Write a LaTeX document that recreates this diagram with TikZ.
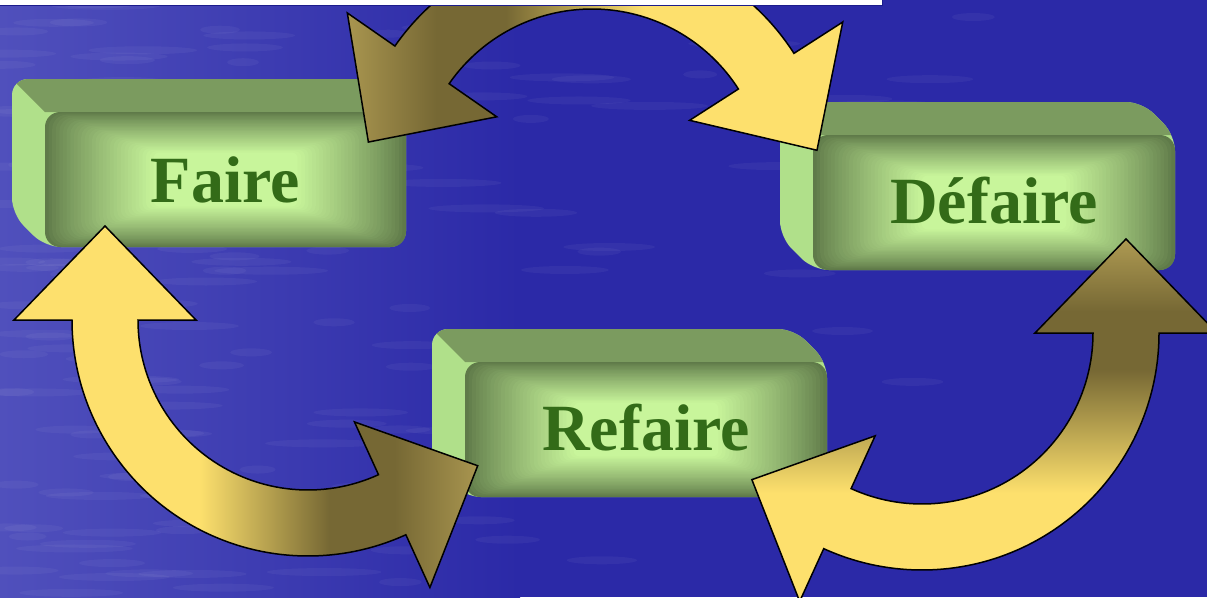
\documentclass[tikz,border=0pt]{standalone}
\usepackage{fontspec}
\setmainfont{Liberation Serif}
\definecolor{bgblue}{HTML}{2B29A7}
\definecolor{bgleft}{HTML}{5050BC}
\definecolor{topface}{HTML}{7B9B5F}
\definecolor{sideface}{HTML}{B0E08A}
\definecolor{frontdark}{HTML}{5F7A49}
\definecolor{frontlight}{HTML}{C8F59B}
\definecolor{textgreen}{HTML}{336B18}
\definecolor{gLight}{HTML}{FDE06D}
\definecolor{gDark}{HTML}{766834}
\definecolor{gMid}{HTML}{AE9A52}
\definecolor{stripnavy}{HTML}{1C1C8C}
\pgfdeclarehorizontalshading{goldgrad}{100bp}{color(0bp)=(gLight); color(45bp)=(gLight); color(59bp)=(gDark); color(66bp)=(gDark); color(76bp)=(gMid); color(100bp)=(gMid)}
\pgfdeclareverticalshading{goldgradv}{100bp}{color(0bp)=(gLight); color(40bp)=(gLight); color(57bp)=(gDark); color(65bp)=(gDark); color(75bp)=(gMid); color(100bp)=(gMid)}
\tikzset{
  goldstyle/.style={draw=black, line width=1.5pt, line join=miter, shade},
  boxtext/.style={font=\fontsize{66}{66}\selectfont\bfseries, text=textgreen, inner sep=0pt, anchor=base},
}
% green bevelled box: x0 y0 x1 y1 of the front face
\newcommand{\greenbox}[4]{%
  \begin{scope}
    \path[clip, rounded corners=16pt] (#1-33,#2-33) -- (#3-33,#2-33) -- (#3,#2) -- (#3,#4) -- (#1,#4) -- (#1-33,#4-33) -- cycle;
    \fill[sideface] (#1-60,#2-60) rectangle (#3+10,#4+10);
    \fill[topface] (#1-83,#2-83) -- (#3+50,#2-83) -- (#3+50,#2) -- (#1,#2) -- cycle;
  \end{scope}
  \pgfmathsetmacro{\bxc}{(#1+#3)/2}
  \pgfmathsetmacro{\byc}{(#2+#4)/2}
  \pgfmathsetmacro{\bhw}{(#3-#1)/2}
  \pgfmathsetmacro{\bhh}{(#4-#2)/2}
  \foreach \i in {0,...,30}{
    \pgfmathsetmacro{\s}{1-0.6*\i/30}
    \pgfmathtruncatemacro{\c}{100*(\i/30)^0.85}
    \pgfmathsetmacro{\rr}{max(2,15*\s)}
    \fill[frontlight!\c!frontdark, rounded corners=\rr pt]
      (\bxc-\bhw*\s,\byc-\bhh*\s) rectangle (\bxc+\bhw*\s,\byc+\bhh*\s);
  }
}
% double-headed curved arrow: cx cy a1 a2 midradius shading-options
\newcommand{\goldarrow}[6]{%
  \begin{scope}[shift={(#1,#2)}]
    \pgfmathsetmacro{\mo}{#5+33}
    \pgfmathsetmacro{\mi}{#5-33}
    \pgfmathsetmacro{\ho}{#5+91}
    \pgfmathsetmacro{\hi}{#5-91}
    \pgfmathsetmacro{\ax}{#5*cos(#3)+94*cos(#3-90)}
    \pgfmathsetmacro{\ay}{#5*sin(#3)+94*sin(#3-90)}
    \pgfmathsetmacro{\bx}{#5*cos(#4)+94*cos(#4+90)}
    \pgfmathsetmacro{\by}{#5*sin(#4)+94*sin(#4+90)}
    \path[goldstyle, #6] (#3:\mo) -- (#3:\ho) -- (\ax,\ay) -- (#3:\hi) -- (#3:\mi)
      arc[start angle=#3, end angle=#4, radius=\mi] -- (#4:\hi) -- (\bx,\by) -- (#4:\ho) -- (#4:\mo)
      arc[start angle=#4, end angle=#3, radius=\mo] -- cycle;
  \end{scope}
}
\begin{document}
\begin{tikzpicture}[x=1pt,y=-1pt]
  \useasboundingbox (0,0) rectangle (1207,597);
  % background water
  \fill[bgblue] (0,0) rectangle (1207,597);
  \shade[left color=bgleft, right color=bgblue] (0,0) rectangle (520,597);
  \pgfmathsetseed{7}
  \foreach \k in {1,...,160}{
    \pgfmathsetmacro{\sx}{1207*rnd*rnd}
    \pgfmathsetmacro{\sy}{597*rnd}
    \pgfmathsetmacro{\sl}{15+rnd*45}
    \fill[white, opacity=0.045] (\sx,\sy) ellipse (\sl pt and 4pt);
  }
  % boxes
  \greenbox{45}{112}{406}{247}
  \greenbox{813}{135}{1175}{270}
  \greenbox{465}{362}{827}{497}
  \node[boxtext] (faire) at (225.5,202) {Faire};
  \node[boxtext] (defaire) at (994,223) {Défaire};
  \node[boxtext] (refaire) at (646,450) {Refaire};
  % arrows
  \goldarrow{592}{183}{214.8}{327.3}{207}{shading=goldgrad, shading angle=180}
  \goldarrow{308}{320}{65.5}{180}{203}{shading=goldgrad}
  \goldarrow{922}{333}{0}{114.5}{204}{shading=goldgradv}
  % top strip (cut-off slide header)
  \fill[white] (0,0) rectangle (882,5);
  \draw[stripnavy, line width=1.5pt] (0,5.5) -- (882.5,5.5) -- (882.5,0);
\end{tikzpicture}
\end{document}
